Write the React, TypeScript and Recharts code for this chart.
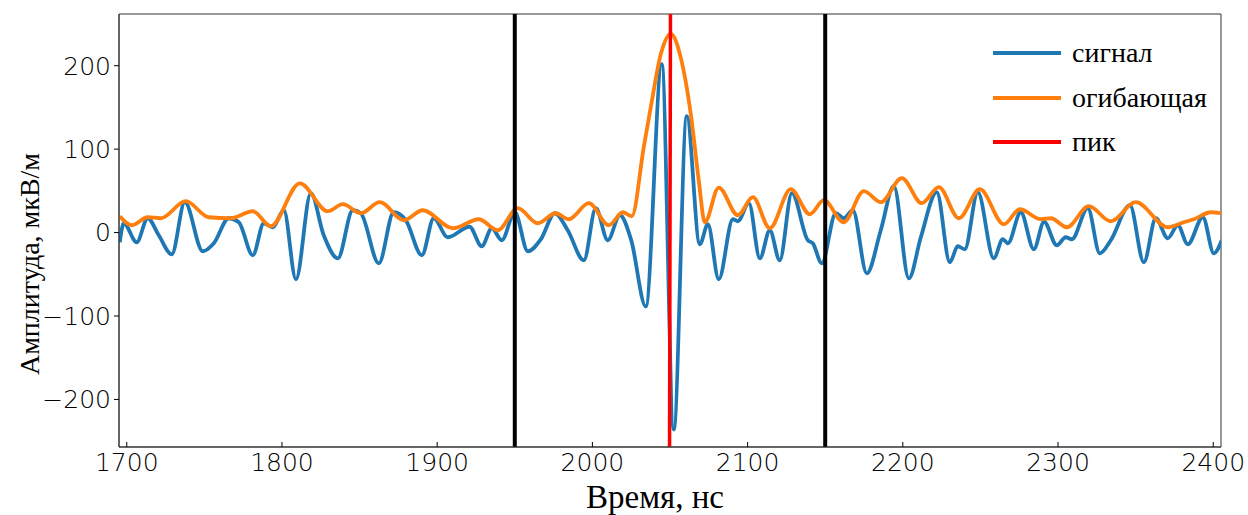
import * as React from "react";
import { LineChart, Line, XAxis, YAxis, ReferenceLine, ReferenceArea } from "recharts";

// сигнал: экстремумы (нс, мкВ/м)
const signalTime = [
  1695.5, 1698.1, 1706.4, 1713.5, 1720.6, 1729.0, 1737.4, 1749.0, 1756.1, 1765.7,
  1772.2, 1781.2, 1788.3, 1794.1, 1801.2, 1809.0, 1818.6, 1826.9, 1836.0, 1845.6,
  1850.8, 1862.4, 1872.0, 1879.8, 1890.1, 1897.8, 1906.8, 1920.8, 1928.7, 1935.2,
  1941.6, 1950.0, 1958.4, 1966.8, 1975.8, 1984.1, 1994.5, 2002.2, 2009.9, 2017.7,
  2025.0, 2034.4, 2044.7, 2052.4, 2060.8, 2069.2, 2074.4, 2081.4, 2090.5, 2093.7,
  2100.8, 2107.9, 2114.3, 2120.7, 2128.5, 2138.8, 2142.0, 2147.8, 2156.8, 2162.0,
  2167.8, 2176.8, 2185.8, 2194.2, 2203.9, 2211.6, 2221.9, 2230.3, 2235.4, 2239.9,
  2248.3, 2258.6, 2264.4, 2267.7, 2276.0, 2284.4, 2291.0, 2299.2, 2305.0, 2308.9,
  2319.2, 2326.9, 2334.0, 2346.3, 2355.3, 2363.0, 2370.7, 2377.2, 2383.6, 2393.3,
  2400.4, 2405.5,
];
const signalAmp = [
  -11.6, 11.2, -11.6, 17.2, -3.2, -26.0, 36.4, -22.4, -12.8, 17.2,
  12.4, -27.2, 11.2, 6.4, 26.8, -56.0, 47.2, -3.2, -30.8, 26.8,
  23.2, -36.8, 24.4, 14.8, -27.2, 17.2, -5.6, 7.0, -16.4, 5.2,
  -9.2, 24.4, -22.4, -8.0, 23.2, 2.8, -33.2, 29.2, -9.2, 20.8,
  -9.0, -88.4, 202.0, -236.0, 139.6, -14.0, 10.0, -56.0, 16.0, 13.6,
  35.2, -30.8, 2.8, -33.2, 47.2, -9.2, -12.8, -36.8, 23.2, 17.2,
  26.8, -48.8, 2.8, 55.6, -54.8, -5.6, 48.4, -35.6, -16.4, -20.0,
  48.4, -30.8, -8.0, -12.8, 24.4, -20.0, 13.0, -15.2, -5.6, -8.0,
  29.2, -24.8, -9.2, 32.8, -35.6, 17.2, -6.8, 8.8, -14.0, 18.4,
  -24.8, -9.2,
];

// огибающая
const envelopeTime = [
  1695.5, 1703.2, 1713.5, 1721.9, 1738.0, 1752.8, 1767.0, 1781.2, 1792.8, 1811.5,
  1829.5, 1839.2, 1850.8, 1863.0, 1878.5, 1890.7, 1910.1, 1926.8, 1939.0, 1951.9,
  1964.8, 1976.4, 1984.8, 1997.7, 2010.6, 2019.6, 2025.4, 2033.1, 2037.6, 2044.1,
  2050.5, 2056.9, 2063.4, 2068.6, 2072.4, 2081.4, 2093.7, 2103.4, 2114.3, 2127.8,
  2140.1, 2149.1, 2161.9, 2174.9, 2185.8, 2199.4, 2212.2, 2223.2, 2236.1, 2249.6,
  2265.1, 2275.4, 2288.9, 2295.4, 2305.7, 2319.8, 2334.0, 2350.1, 2370.7, 2381.1,
  2387.5, 2398.5, 2405.5,
];
const envelopeAmp = [
  19.6, 8.8, 18.4, 17.2, 37.6, 18.4, 17.2, 25.6, 7.6, 59.0,
  25.6, 34.0, 23.2, 36.4, 14.8, 26.8, 5.2, 16.0, 2.8, 29.2,
  11.2, 23.2, 16.0, 35.2, 8.8, 24.4, 19.6, 102.4, 150.0, 214.0,
  238.0, 210.0, 142.0, 61.6, 12.4, 54.0, 20.8, 42.4, 5.2, 52.0,
  22.0, 38.8, 12.4, 49.6, 36.4, 65.2, 35.2, 54.4, 17.2, 52.0,
  10.0, 28.0, 16.0, 17.2, 6.4, 31.6, 13.6, 36.4, 6.4, 12.4,
  16.0, 24.4, 23.2,
];

// пик и окно вокруг него
const peakTime = [2050.3, 2049.7];
const peakAmp = [262, -257];
const windowBounds = [1950, 2150];

const xTicks = [1700, 1800, 1900, 2000, 2100, 2200, 2300, 2400];
const yTicks = [-200, -100, 0, 100, 200];

const signalData = signalTime.map((t, i) => ({ t, v: signalAmp[i] }));
const envelopeData = envelopeTime.map((t, i) => ({ t, v: envelopeAmp[i] }));
const peakData = peakTime.map((t, i) => ({ t, v: peakAmp[i] }));

const tickFont = "'DejaVu Sans', sans-serif";
const labelFont = "'Liberation Serif', 'Times New Roman', serif";

const fmt = (v: number) => (v < 0 ? "\u2212" + Math.abs(v) : String(v));

function XTick(props: any) {
  const { x, y, payload } = props;
  return (
    <g>
      <line x1={x} x2={x} y1={y} y2={y - 5} stroke="#000" strokeWidth={1} />
      <text x={x} y={y + 24} textAnchor="middle" fontSize={25} fontWeight={300} fontFamily={tickFont} fill="#000">
        {payload.value}
      </text>
    </g>
  );
}

const legendItems = [
  { name: "сигнал", color: "#1f77b4" },
  { name: "огибающая", color: "#ff7f0e" },
  { name: "пик", color: "#ff0000" },
];

export default function App() {
  return (
    <div style={{ position: "absolute", left: 0, top: 0, width: 1248, height: 515, background: "#fff" }}>
      <LineChart width={1248} height={515} margin={{ top: 14, right: 27, bottom: 0, left: 0 }}>
        <XAxis
          dataKey="t"
          type="number"
          domain={[1695, 2405]}
          allowDataOverflow
          ticks={xTicks}
          height={68}
          tickLine={false}
          tickSize={0}
          tickMargin={0}
          axisLine={{ stroke: "#333", strokeWidth: 1 }}
          tick={<XTick />}
        />
        <YAxis
          dataKey="v"
          type="number"
          domain={[-257, 262]}
          allowDataOverflow
          ticks={yTicks}
          width={119}
          tickSize={5}
          tickMargin={3}
          tickFormatter={fmt}
          axisLine={{ stroke: "#333", strokeWidth: 1 }}
          tickLine={{ stroke: "#000" }}
          tick={{ fontSize: 25, fontWeight: 300, fontFamily: tickFont, fill: "#000" }}
        />
        <Line data={signalData} dataKey="v" type="monotone" stroke="#1f77b4" strokeWidth={3.8} dot={false} isAnimationActive={false} />
        <Line data={envelopeData} dataKey="v" type="monotone" stroke="#ff7f0e" strokeWidth={3.8} dot={false} isAnimationActive={false} />
        <ReferenceLine x={windowBounds[0]} stroke="#000" strokeWidth={4} />
        <ReferenceLine x={windowBounds[1]} stroke="#000" strokeWidth={4} />
        <Line data={peakData} dataKey="v" type="linear" stroke="#ff0000" strokeWidth={3.5} dot={false} isAnimationActive={false} />
        <ReferenceArea x1={1695} x2={2405} y1={-257} y2={262} fill="none" stroke="#333" strokeWidth={1} />
      </LineChart>

      <div
        style={{
          position: "absolute",
          left: 30,
          top: 264,
          transform: "translate(-50%, -50%) rotate(-90deg)",
          whiteSpace: "nowrap",
          fontFamily: labelFont,
          fontSize: 28,
          color: "#000",
        }}
      >
        Амплитуда, мкВ/м
      </div>
      <div
        style={{
          position: "absolute",
          left: 655,
          top: 497,
          transform: "translate(-50%, -50%)",
          whiteSpace: "nowrap",
          fontFamily: labelFont,
          fontSize: 33,
          color: "#000",
        }}
      >
        Время, нс
      </div>

      {legendItems.map((item, i) => (
        <div
          key={item.name}
          style={{
            position: "absolute",
            left: 993,
            top: 53 + i * 44.5,
            transform: "translateY(-50%)",
            display: "flex",
            alignItems: "center",
            whiteSpace: "nowrap",
          }}
        >
          <div style={{ width: 68, height: 4, background: item.color }} />
          <span style={{ marginLeft: 11, fontFamily: labelFont, fontSize: 28, color: "#000", lineHeight: 1 }}>
            {item.name}
          </span>
        </div>
      ))}
    </div>
  );
}
